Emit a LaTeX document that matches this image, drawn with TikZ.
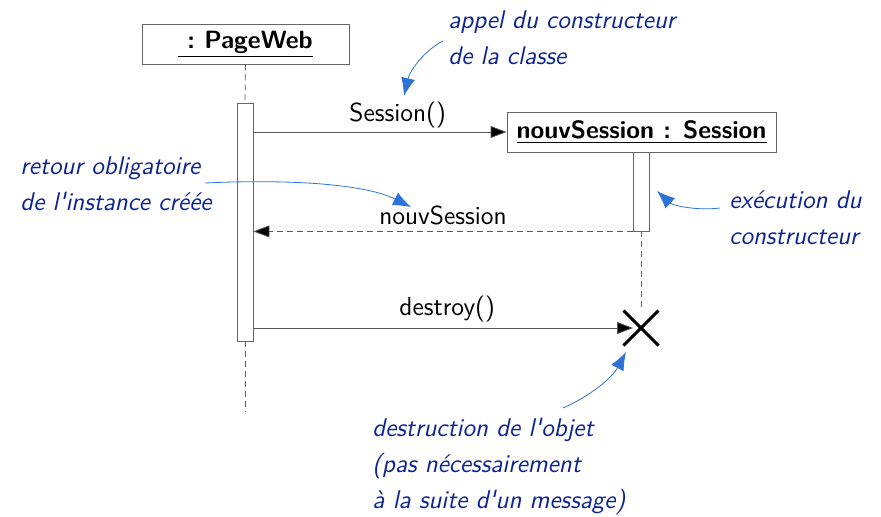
\documentclass[tikz,border=0pt]{standalone}
\usepackage{fontspec}
\usepackage{tikz}
\usetikzlibrary{arrows.meta,shapes.misc}
\definecolor{notetext}{RGB}{12,36,145}
\definecolor{noteline}{RGB}{45,115,215}
\tikzstyle{objbox} = [draw=black!60, fill=white, rectangle, minimum height=20pt,
    inner sep=0pt, font=\sffamily\bfseries\fontsize{12.5}{15}\selectfont]
\tikzstyle{activation} = [draw=black!60, fill=white, rectangle, minimum width=8pt, inner sep=0pt]
\tikzstyle{lifeline} = [draw=black!60, dash pattern=on 3pt off 2pt]
\tikzstyle{msg} = [draw=black!65, -{Triangle[length=8pt,width=6pt,fill=black]}]
\tikzstyle{reply} = [msg, dash pattern=on 3pt off 2pt]
\tikzstyle{msglabel} = [text=black, font=\sffamily\fontsize{13}{15}\selectfont, inner sep=2pt]
\tikzstyle{note} = [text=notetext, align=left, anchor=north west, inner sep=0pt,
    font=\sffamily\itshape\fontsize{12.8}{18}\selectfont]
\tikzstyle{notearrow} = [draw=noteline, thin, -{Latex[length=9pt,width=7pt,fill=noteline]}]

\begin{document}
\begin{tikzpicture}[x=0.5pt,y=-0.5pt]
\useasboundingbox (0,0) rectangle (881,516);

% objects
\node [objbox, minimum width=103.5pt] (web) at (245.5,44) {\underline{\ :\ PageWeb}};
\node [objbox, minimum width=134.5pt] (sess) at (641.5,132) {\underline{nouvSession : Session}};

% activations
\node [activation, minimum height=119pt] (actweb) at (245,222) {};
\node [activation, minimum height=39.5pt] (actsess) at (641,191.5) {};
\node [draw=black, line width=1.5pt, cross out, minimum size=16pt, inner sep=0pt] (kill) at (641,328) {};
\coordinate (webend) at (245,412);

% lifelines
\draw [lifeline] (web.south) -- (actweb.north);
\draw [lifeline] (actweb.south) -- (webend);
\draw [lifeline] (actsess.south) -- (kill.north);

% messages
\draw [msg] (actweb.east |- sess.west) -- (sess.west)
    node [msglabel, above, pos=0.57] (lblnew) {Session()};
\draw [reply] (actsess.south west) -- (actweb.east |- actsess.south)
    node [msglabel, above, midway, yshift=1pt] (lblret) {nouvSession};
\draw [msg, shorten >=4pt] (actweb.east |- kill.center) -- (kill.center)
    node [msglabel, above, pos=0.5, yshift=1pt] (lbldel) {destroy()};

% notes
\node [note] (ncall) at (448,10) {appel du constructeur\\de la classe};
\node [note] (nret) at (20,156) {retour obligatoire\\de l\textquotesingle instance créée};
\node [note] (nexec) at (729,190) {exécution du\\constructeur};
\node [note] (ndel) at (372,418) {destruction de l\textquotesingle objet\\(pas nécessairement\\à la suite d\textquotesingle un message)};

\coordinate (ccall) at (443,41);
\coordinate (cret) at (205,183);
\coordinate (cexec) at (720,208);
\coordinate (cdel) at (563,408);
\draw [notearrow] (ccall) .. controls (425,50) and (410,70) .. (404,96);
\draw [notearrow] (cret) .. controls (290,179) and (365,184) .. (411,207);
\draw [notearrow] (cexec) .. controls (695,211) and (672,205) .. (657,191);
\draw [notearrow] (cdel) .. controls (590,396) and (612,378) .. (626,352);
\end{tikzpicture}
\end{document}
